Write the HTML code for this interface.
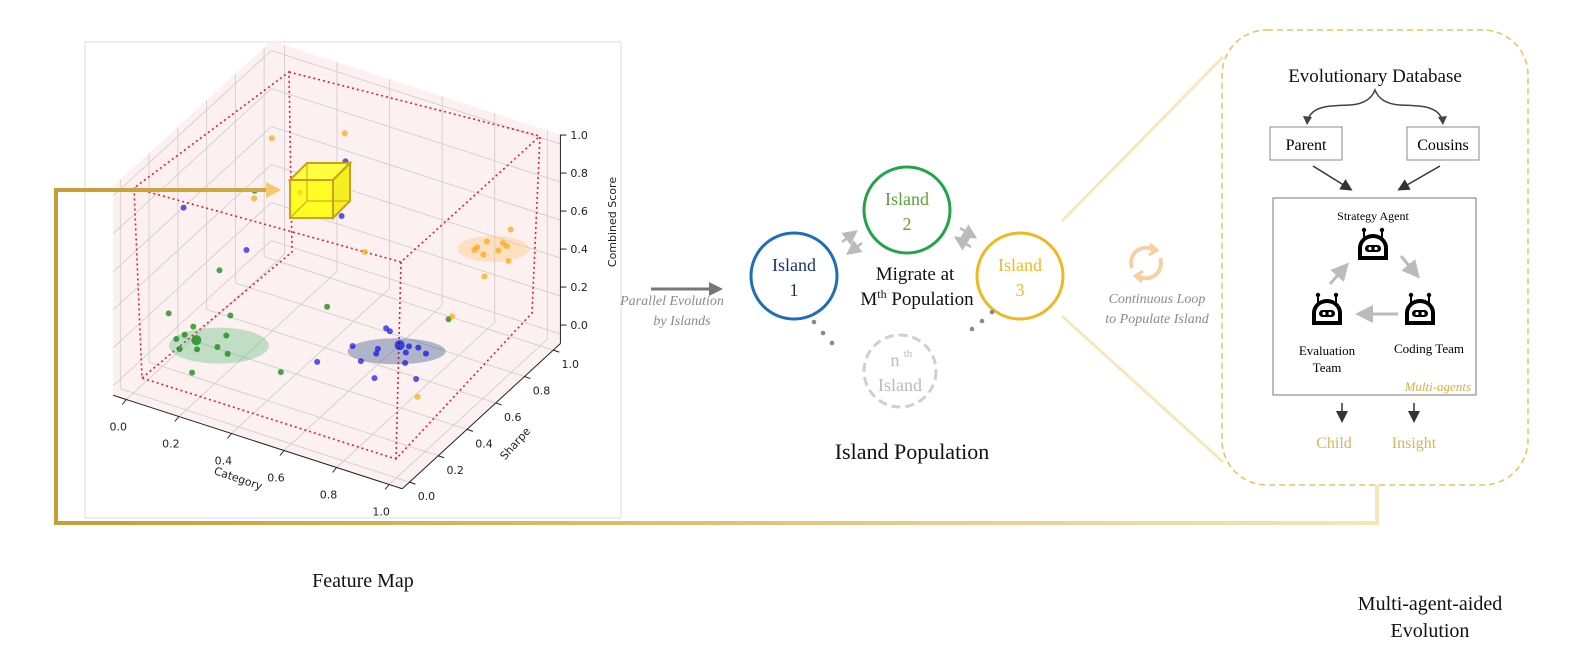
<!DOCTYPE html>
<html><head><meta charset="utf-8"><style>
html,body{margin:0;padding:0;background:#fff;width:1591px;height:660px;overflow:hidden}
svg{display:block}
text{font-family:"Liberation Serif",serif}
.sans{font-family:"DejaVu Sans","Liberation Sans",sans-serif}
</style></head><body>
<svg id="root" width="1591" height="660" viewBox="0 0 1591 660">
<defs>
<linearGradient id="gold" x1="0" x2="1" y1="0" y2="0"><stop offset="0" stop-color="#c99d35"/><stop offset="1" stop-color="#f6e6b5"/></linearGradient>
<linearGradient id="goldArrow" x1="0" x2="1"><stop offset="0" stop-color="#d4a843"/><stop offset="1" stop-color="#f3c96a"/></linearGradient>
<marker id="ah" markerWidth="8" markerHeight="8" refX="6" refY="4" orient="auto"><path d="M0,0 L8,4 L0,8 z" fill="#333"/></marker>
<marker id="ahl" markerWidth="6" markerHeight="6" refX="4" refY="3" orient="auto"><path d="M0,0 L6,3 L0,6 z" fill="#bbb"/></marker>
</defs>

<rect x="85" y="42" width="536" height="476" fill="none" stroke="#ddd" stroke-width="1"/>
<g id="plot3d"></g>

<path d="M278,190 L56,190 L56,523 L1377,523 L1377,485" fill="none" stroke="url(#gold)" stroke-width="4"/>
<path d="M150,190 L272,190" stroke="url(#goldArrow)" stroke-width="5"/>
<path d="M266,182 L281,190 L266,198 z" fill="#f3c96a"/>

<g>
<line x1="651" y1="289" x2="712" y2="289" stroke="#777" stroke-width="3"/>
<path d="M709,282 L723,289 L709,296 z" fill="#777"/>
</g>
<text x="672" y="305" text-anchor="middle" font-style="italic" font-size="14" fill="#8a8a8a">Parallel Evolution</text>
<text x="682" y="325" text-anchor="middle" font-style="italic" font-size="14" fill="#8a8a8a">by Islands</text>

<g>
<circle cx="794" cy="276" r="43" fill="none" stroke="#1c6eb8" stroke-width="3"/>
<text x="794" y="271" text-anchor="middle" font-size="18" fill="#1c2f6e">Island</text>
<text x="794" y="296" text-anchor="middle" font-size="18" fill="#1c2f6e">1</text>
</g>
<g>
<circle cx="907" cy="210" r="43" fill="none" stroke="#22a34a" stroke-width="3"/>
<text x="907" y="205" text-anchor="middle" font-size="18" fill="#5aa03a">Island</text>
<text x="907" y="230" text-anchor="middle" font-size="18" fill="#5aa03a">2</text>
</g>
<g>
<circle cx="1020" cy="276" r="43" fill="none" stroke="#f0b820" stroke-width="3"/>
<text x="1020" y="271" text-anchor="middle" font-size="18" fill="#ebbb25">Island</text>
<text x="1020" y="296" text-anchor="middle" font-size="18" fill="#ebbb25">3</text>
</g>
<g>
<circle cx="900" cy="371" r="36" fill="none" stroke="#cfcfcf" stroke-width="3" stroke-dasharray="9,5"/>
<text x="895" y="366" text-anchor="middle" font-size="18" fill="#bbb">n</text>
<text x="908" y="357" text-anchor="middle" font-size="11" fill="#bbb">th</text>
<text x="900" y="391" text-anchor="middle" font-size="18" fill="#bbb">Island</text>
</g>
<g stroke="#bbb" stroke-width="2.5">
<line x1="842" y1="242" x2="854" y2="233" marker-end="url(#ahl)"/>
<line x1="862" y1="243" x2="850" y2="252" marker-end="url(#ahl)"/>
<line x1="960" y1="228" x2="973" y2="236" marker-end="url(#ahl)"/>
<line x1="971" y1="247" x2="958" y2="239" marker-end="url(#ahl)"/>
</g>
<g fill="#888">
<circle cx="814" cy="322" r="2.3"/><circle cx="823" cy="333" r="2.3"/><circle cx="832" cy="343" r="2.3"/>
<circle cx="992" cy="312" r="2.3"/><circle cx="982" cy="321" r="2.3"/><circle cx="972" cy="329" r="2.3"/>
</g>
<text x="915" y="280" text-anchor="middle" font-size="19" fill="#111">Migrate at</text>
<text x="917" y="305" text-anchor="middle" font-size="19" fill="#111">M<tspan font-size="12" dy="-7">th</tspan><tspan dy="7"> Population</tspan></text>
<text x="912" y="459" text-anchor="middle" font-size="22" fill="#111">Island Population</text>

<line x1="1062" y1="221" x2="1223" y2="57" stroke="#f7e7bc" stroke-width="3"/>
<line x1="1062" y1="316" x2="1223" y2="462" stroke="#f7e7bc" stroke-width="3"/>

<g fill="none" stroke="#f6d0a3" stroke-width="4">
<path d="M1132,268 A15,15 0 0 1 1154,250"/>
<path d="M1160,258 A15,15 0 0 1 1138,276"/>
<path d="M1150,244 L1157,250 L1149,255" stroke-width="3"/>
<path d="M1142,282 L1135,276 L1143,271" stroke-width="3"/>
</g>
<text x="1157" y="303" text-anchor="middle" font-style="italic" font-size="14" fill="#8a8a8a">Continuous Loop</text>
<text x="1157" y="323" text-anchor="middle" font-style="italic" font-size="14" fill="#8a8a8a">to Populate Island</text>

<rect x="1222" y="30" width="306" height="455" rx="45" fill="#fff" stroke="#e8c25a" stroke-width="1.5" stroke-dasharray="6,4"/>
<text x="1375" y="82" text-anchor="middle" font-size="19" fill="#111">Evolutionary Database</text>
<path d="M1307,123 C1310,105 1330,106 1350,105 C1365,104 1372,98 1375,90 C1378,98 1385,104 1400,105 C1420,106 1440,105 1443,123" fill="none" stroke="#444" stroke-width="1.5"/>
<path d="M1303,116 L1307,125 L1312,117" fill="#444"/>
<path d="M1438,117 L1443,125 L1447,116" fill="#444"/>
<g><rect x="1270" y="127" width="72" height="33" fill="#fff" stroke="#888"/><text x="1306" y="150" text-anchor="middle" font-size="16">Parent</text></g>
<g><rect x="1407" y="127" width="72" height="33" fill="#fff" stroke="#888"/><text x="1443" y="150" text-anchor="middle" font-size="16">Cousins</text></g>
<line x1="1313" y1="166" x2="1350" y2="189" stroke="#333" stroke-width="1.5" marker-end="url(#ah)"/>
<line x1="1440" y1="166" x2="1400" y2="189" stroke="#333" stroke-width="1.5" marker-end="url(#ah)"/>
<rect x="1273" y="198" width="203" height="197" fill="#fff" stroke="#777"/>
<text x="1373" y="220" text-anchor="middle" font-size="12">Strategy Agent</text>
<g id="robots"></g>
<g stroke="#bbb" stroke-width="3" fill="none">
<line x1="1330" y1="284" x2="1345" y2="267" marker-end="url(#ahl)"/>
<line x1="1401" y1="256" x2="1416" y2="274" marker-end="url(#ahl)"/>
<line x1="1398" y1="314" x2="1361" y2="314" marker-end="url(#ahl)"/>
</g>
<text x="1327" y="355" text-anchor="middle" font-size="13">Evaluation</text>
<text x="1327" y="372" text-anchor="middle" font-size="13">Team</text>
<text x="1429" y="353" text-anchor="middle" font-size="13">Coding Team</text>
<text x="1471" y="391" text-anchor="end" font-size="13" font-style="italic" fill="#d9ad42">Multi-agents</text>
<line x1="1342" y1="403" x2="1342" y2="420" stroke="#333" stroke-width="1.5" marker-end="url(#ah)"/>
<line x1="1414" y1="403" x2="1414" y2="420" stroke="#333" stroke-width="1.5" marker-end="url(#ah)"/>
<text x="1334" y="448" text-anchor="middle" font-size="16" fill="#d9b455">Child</text>
<text x="1414" y="448" text-anchor="middle" font-size="16" fill="#d9b455">Insight</text>

<text x="363" y="587" text-anchor="middle" font-size="20" fill="#111">Feature Map</text>
<text x="1430" y="610" text-anchor="middle" font-size="20" fill="#111">Multi-agent-aided</text>
<text x="1430" y="637" text-anchor="middle" font-size="20" fill="#111">Evolution</text>
</svg>
<script>
// data: category, sharpe, combined score
const greenCat=[0.03,0.21,0.14,0.14,0.13,0.19,0.17,0.22,0.27,0.26,0.32,0.19,0.38,0.31,0.07,0.10,0.69];
const greenSharpe=[0.19,0.29,0.16,0.10,0.06,0.09,0.01,0.04,0.09,0.17,0.07,0.06,0.33,0.78,0.47,0.66,0.93];
const greenScore=[0.25,0.25,0.25,0.25,0.25,0.25,0.25,0.25,0.25,0.25,0.25,0.10,0.0,0.0,0.30,0.60,0.0];
const greenBig=[0,0,0,0,0,1,0,0,0,0,0,0,0,0,0,0,0];
const blueCat=[0.60,0.62,0.56,0.64,0.65,0.69,0.72,0.75,0.73,0.79,0.63,0.76,0.72,0.84,0.48,0.01,0.20,0.44,0.35,0.48];
const blueSharpe=[0.66,0.65,0.50,0.53,0.50,0.59,0.60,0.61,0.56,0.59,0.43,0.50,0.36,0.43,0.40,0.33,0.42,0.67,0.52,0.57];
const blueScore=[0.1,0.1,0.1,0.1,0.1,0.1,0.1,0.1,0.1,0.1,0.1,0.1,0.1,0.1,0.05,0.7,0.5,0.9,0.8,0.7];
const blueBig=[0,0,0,0,0,1,0,0,0,0,0,0,0,0,0,0,0,0,0,0];
const orangeCat=[0.91,0.88,0.87,0.87,0.93,0.95,0.94,0.91,1.0,0.98,0.22,0.41,0.18,0.48,0.72,0.84];
const orangeSharpe=[0.96,0.85,0.80,0.78,0.87,0.86,0.82,0.77,0.78,0.65,0.56,0.72,0.51,0.73,0.90,0.44];
const orangeScore=[0.55,0.55,0.55,0.55,0.55,0.55,0.55,0.55,0.55,0.55,1.0,1.0,0.7,0.4,0.05,0.0];
const clusterCenters=[[0.27,0.1,0.25],[0.7,0.55,0.1],[0.92,0.82,0.55]];
const tickValues=[0,0.2,0.4,0.6,0.8,1.0];
const tickLabels=["0.0","0.2","0.4","0.6","0.8","1.0"];

const NS="http://www.w3.org/2000/svg";
const O=[133.5,383.4], EX=[262.8,85], EY=[143.8,-132], EZ=[0,-190];
const MIN=-0.05, MAX=1.05;
function P(c,s,z){return [O[0]+c*EX[0]+s*EY[0]+z*EZ[0], O[1]+c*EX[1]+s*EY[1]+z*EZ[1]];}
const g=document.getElementById('plot3d');
function mk(tag,attrs,parent){const e=document.createElementNS(NS,tag);for(const k in attrs)e.setAttribute(k,attrs[k]);(parent||g).appendChild(e);return e;}
function poly(pts){return pts.map(p=>p.join(',')).join(' ');}

let pane;
pane=mk('polygon',{points:poly([P(MIN,MIN,MIN),P(MAX,MIN,MIN),P(MAX,MAX,MIN),P(MIN,MAX,MIN)]),fill:'#fdf0f0'});


pane=mk('polygon',{points:poly([P(MIN,MIN,MIN),P(MIN,MAX,MIN),P(MIN,MAX,MAX),P(MIN,MIN,MAX)]),fill:'#fdf0f0'});


pane=mk('polygon',{points:poly([P(MIN,MAX,MIN),P(MAX,MAX,MIN),P(MAX,MAX,MAX),P(MIN,MAX,MAX)]),fill:'#fdf0f0'});


tickValues.forEach(v=>{
  const segs=[[P(v,MIN,MIN),P(v,MAX,MIN)],[P(v,MAX,MIN),P(v,MAX,MAX)],
              [P(MIN,v,MIN),P(MAX,v,MIN)],[P(MIN,v,MIN),P(MIN,v,MAX)],
              [P(MIN,MAX,v),P(MAX,MAX,v)],[P(MIN,MIN,v),P(MIN,MAX,v)]];
  segs.forEach(sg=>{const l=mk('line',{x1:sg[0][0],y1:sg[0][1],x2:sg[1][0],y2:sg[1][1],stroke:'#cfcfcf','stroke-width':0.9});
    
    });
});
// red dotted highlight region (decorative outline)
const redPath='M289,72 L540,136 L532,313 L396,459 L142,378 L134,188 L289,72 L292,252 L142,378 M134,188 L401,262 L540,136 M401,262 L396,459';
const rp=mk('path',{d:redPath,fill:'none',stroke:'#e0202a','stroke-width':1.6,'stroke-dasharray':'2,3'});


function axisLine(a,b,name){const l=mk('line',{x1:a[0],y1:a[1],x2:b[0],y2:b[1],stroke:'#222','stroke-width':1});
  
  }
axisLine(P(MIN,MIN,MIN),P(MAX,MIN,MIN),'category-axis');
axisLine(P(MAX,MIN,MIN),P(MAX,MAX,MIN),'sharpe-axis');
axisLine(P(MAX,MAX,MIN),P(MAX,MAX,MAX),'score-axis');
tickValues.forEach((v,i)=>{
  let p=P(v,MIN,MIN);
  mk('line',{x1:p[0],y1:p[1],x2:p[0]-4,y2:p[1]+5,stroke:'#222'});
  let t=mk('text',{x:p[0]-8,y:p[1]+31,'font-size':11,'text-anchor':'middle',fill:'#222',class:'sans'});t.textContent=tickLabels[i];
  
  
  p=P(MAX,v,MIN);
  mk('line',{x1:p[0],y1:p[1],x2:p[0]+6,y2:p[1]+2,stroke:'#222'});
  t=mk('text',{x:p[0]+17,y:p[1]+18,'font-size':11,'text-anchor':'middle',fill:'#222',class:'sans'});t.textContent=tickLabels[i];
  
  
  p=P(MAX,MAX,v);
  mk('line',{x1:p[0],y1:p[1]-9,x2:p[0]+6,y2:p[1]-9,stroke:'#222'});
  t=mk('text',{x:p[0]+10,y:p[1]-5,'font-size':11,fill:'#222',class:'sans'});t.textContent=tickLabels[i];
  
  
});
let at=mk('text',{x:237,y:482,'font-size':11,'text-anchor':'middle',fill:'#222',class:'sans',transform:'rotate(19 237 482)'});at.textContent='Category';


at=mk('text',{x:518,y:446,'font-size':11,'text-anchor':'middle',fill:'#222',class:'sans',transform:'rotate(-48 518 446)'});at.textContent='Sharpe';


at=mk('text',{x:616,y:222,'font-size':11,'text-anchor':'middle',fill:'#222',class:'sans',transform:'rotate(-90 616 222)'});at.textContent='Combined Score';


const ellCols=['rgba(60,180,100,0.3)','rgba(30,70,130,0.35)','rgba(255,190,90,0.3)'];
const ellR=[[50,18],[49,13],[36,13]];
clusterCenters.forEach((cc,i)=>{const p=P(cc[0],cc[1],cc[2]);
  const e=mk('ellipse',{cx:p[0],cy:p[1],rx:ellR[i][0],ry:ellR[i][1],fill:ellCols[i]});
  
  });
function series(cat,shp,sc,big,col,name){
  cat.forEach((c,i)=>{const p=P(c,shp[i],sc[i]);
    const d=mk('circle',{cx:p[0],cy:p[1],r:(big&&big[i])?5:3,fill:col});
    
    });
}
series(greenCat,greenSharpe,greenScore,greenBig,'rgba(0,128,0,0.7)','green-point');
series(blueCat,blueSharpe,blueScore,blueBig,'rgba(0,0,230,0.65)','blue-point');
series(orangeCat,orangeSharpe,orangeScore,null,'rgba(255,165,0,0.7)','orange-point');
const cube=mk('g',{});


mk('polygon',{points:'290,180 307,163 350,163 333,180',fill:'#ffff40',stroke:'#c9a020','stroke-width':2},cube);
mk('polygon',{points:'333,180 350,163 350,201 333,218',fill:'#f5ee20',stroke:'#c9a020','stroke-width':2},cube);
mk('rect',{x:290,y:180,width:43,height:38,fill:'rgba(255,255,0,0.85)',stroke:'#c9a020','stroke-width':2},cube);
mk('polyline',{points:'307,163 307,201 290,218',fill:'none',stroke:'#c9a020','stroke-width':1},cube);
mk('line',{x1:307,y1:201,x2:350,y2:201,stroke:'#c9a020','stroke-width':1},cube);

const rg=document.getElementById('robots');
function robot(cx,cy,name){
  const r=document.createElementNS(NS,'g');
  
  
  rg.appendChild(r);
  mk('line',{x1:cx-9,y1:cy-10,x2:cx-9,y2:cy-17,stroke:'#000','stroke-width':2},r);
  mk('line',{x1:cx+9,y1:cy-10,x2:cx+9,y2:cy-17,stroke:'#000','stroke-width':2},r);
  mk('circle',{cx:cx-9,cy:cy-18,r:2.2,fill:'#000'},r);
  mk('circle',{cx:cx+9,cy:cy-18,r:2.2,fill:'#000'},r);
  mk('path',{d:`M${cx-15},${cy+12} L${cx-15},${cy} A15,14 0 0 1 ${cx+15},${cy} L${cx+15},${cy+12} Z`,fill:'#000'},r);
  mk('path',{d:`M${cx-11},${cy+8} L${cx-11},${cy} A11,10 0 0 1 ${cx+11},${cy} L${cx+11},${cy+8} Z`,fill:'#fff'},r);
  mk('rect',{x:cx-8,y:cy-3,width:16,height:7,rx:3.5,fill:'#000'},r);
  mk('circle',{cx:cx-3,cy:cy+0.5,r:1.6,fill:'#fff'},r);
  mk('circle',{cx:cx+3,cy:cy+0.5,r:1.6,fill:'#fff'},r);
}
robot(1373,248,'strategy-agent-icon');
robot(1327,313,'evaluation-team-icon');
robot(1420,313,'coding-team-icon');
</script>
</body></html>
